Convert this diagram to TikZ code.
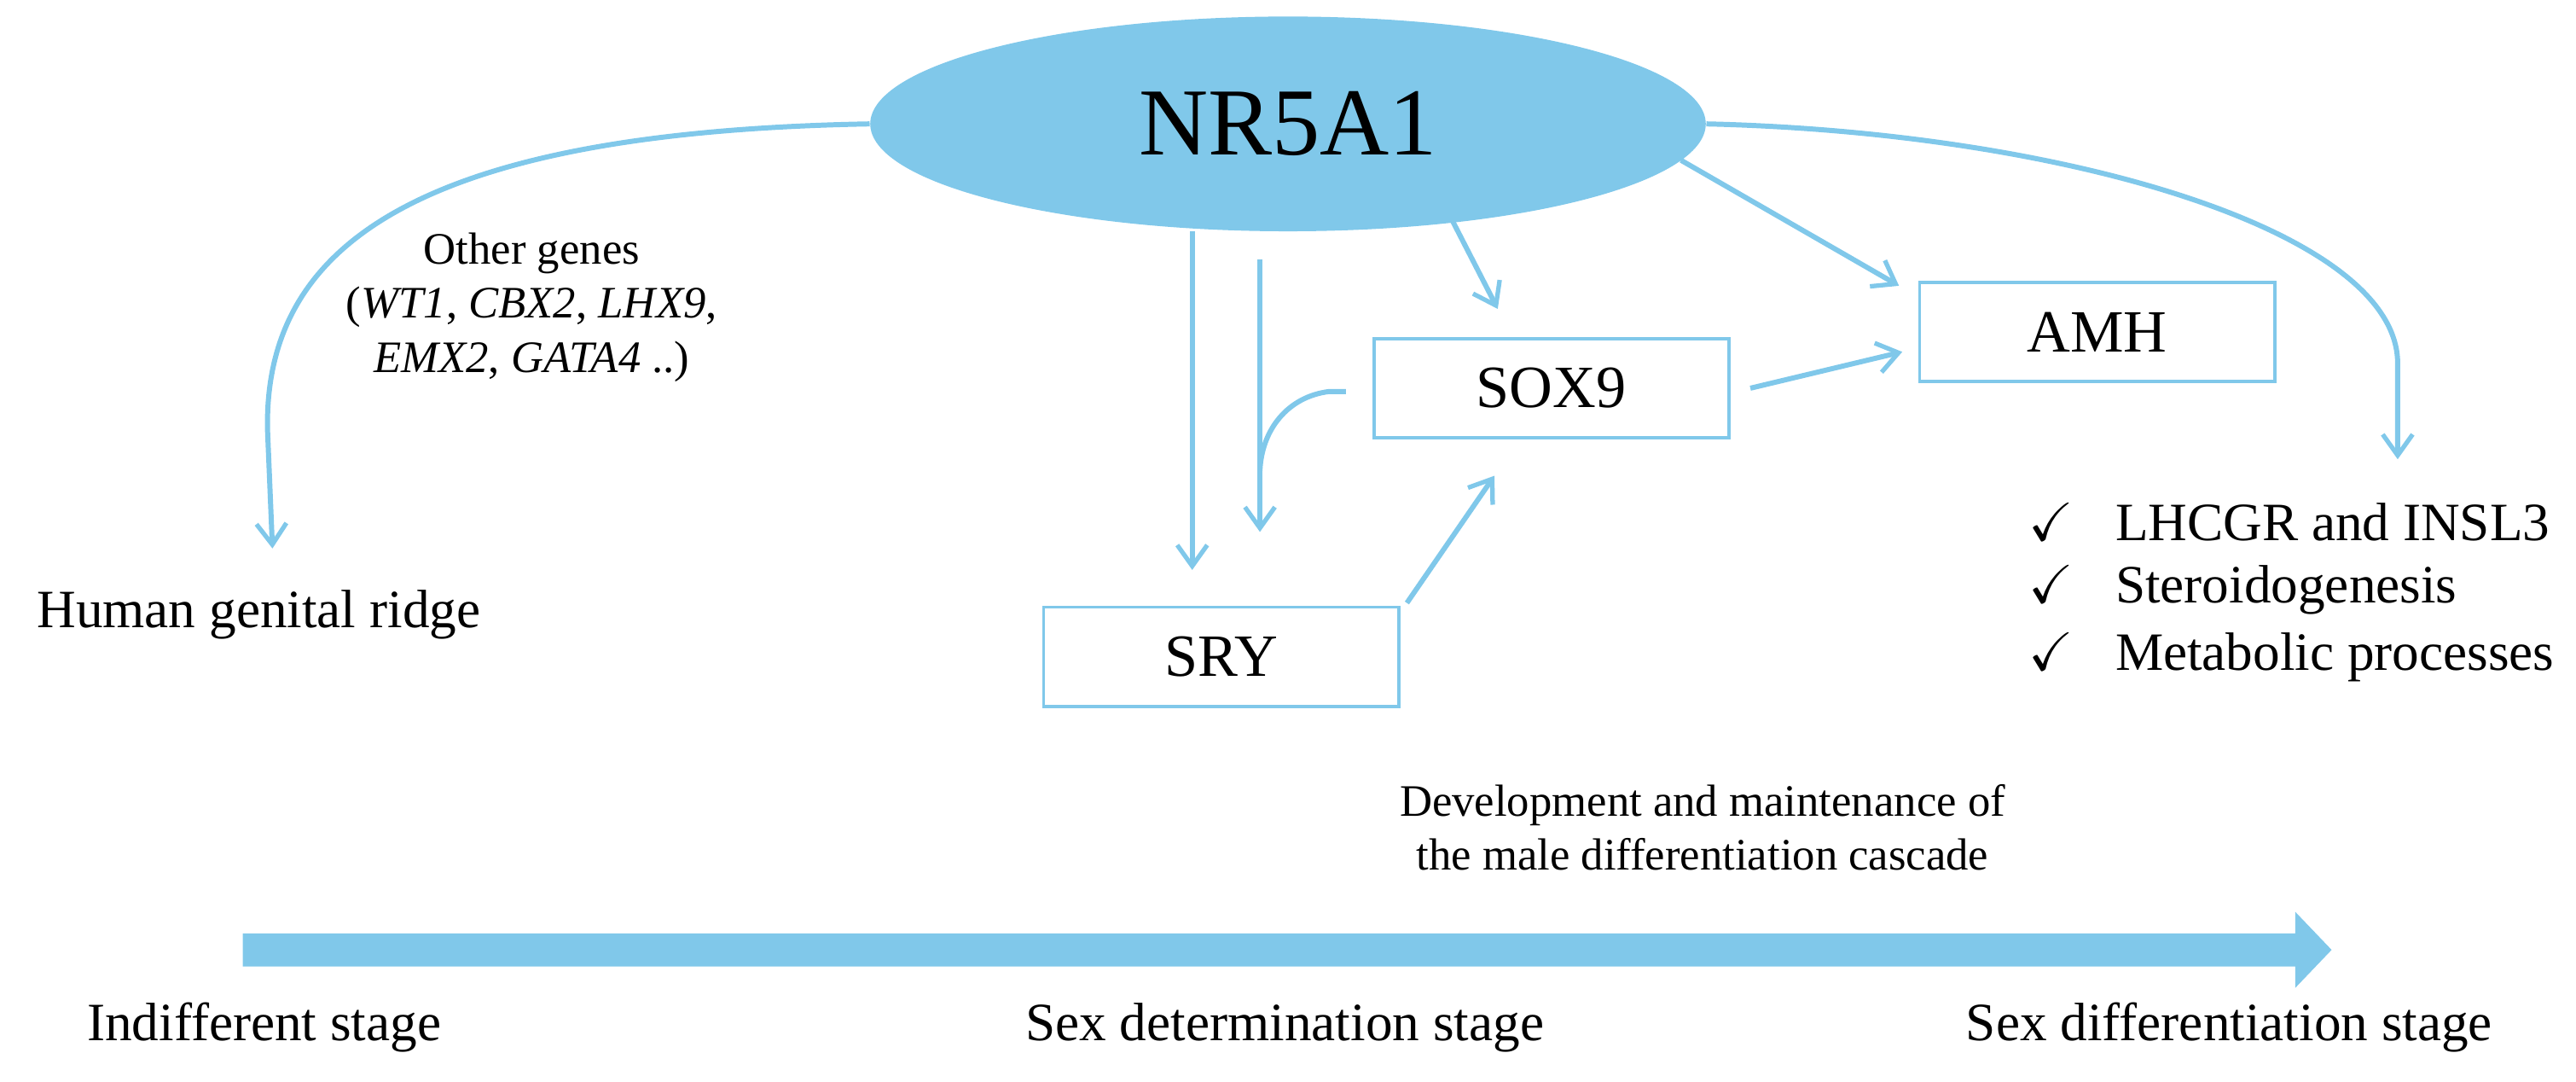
\documentclass[tikz,border=0pt]{standalone}
\usepackage{fontspec}
\setmainfont{Liberation Serif}
\usepackage{amssymb}
\usetikzlibrary{arrows.meta,shapes.geometric}
\definecolor{sky}{HTML}{80C8EA}
\tikzset{
  conn/.style={draw=sky,line width=1.7pt,-{Straight Barb[length=7pt,width=10pt,line width=1.5pt]}},
  gbox/.style={draw=sky,line width=1.1pt,minimum width=215*0.01936cm,minimum height=60*0.01936cm,font=\fontsize{20}{24}\selectfont},
  lab/.style={font=\fontsize{18}{22}\selectfont},
  small/.style={font=\fontsize{15}{18}\selectfont,align=center}
}
\begin{document}
\begin{tikzpicture}[x=0.01936cm,y=-0.01936cm]
\useasboundingbox (0,0) rectangle (1560,654.5);
\node[ellipse,fill=sky,minimum width=506*0.01936cm,minimum height=130*0.01936cm,inner sep=0pt,font=\fontsize{32}{36}\selectfont] (nr) at (780,75) {NR5A1};
\node[gbox] (sox) at (939.5,235) {SOX9};
\node[gbox] (amh) at (1270,201) {AMH};
\node[gbox] (sry) at (739.5,397.5) {SRY};
\coordinate (hgr) at (165,332);
\coordinate (rend) at (1452,278);
\node[lab,anchor=west] (hg) at (16,372) {Human genital ridge};
\node[small] (og) at (322,186) {Other genes\\(\textit{WT1}, \textit{CBX2}, \textit{LHX9},\\\textit{EMX2}, \textit{GATA4} ..)};
\draw[conn] (nr.west) .. controls (250,80) and (160,150) .. (162,260) -- (hgr);
\draw[conn] (nr.east) .. controls (1250,80) and (1452,140) .. (1452,220) -- (rend);
\coordinate (a1) at (722,140);
\coordinate (a2) at (722,345);
\draw[conn] (a1) -- (a2);
\coordinate (b1) at (763,157);
\coordinate (b2) at (763,322);
\draw[conn] (b1) -- (b2);
\draw[draw=sky,line width=1.7pt] (815,237) -- (805,237) .. controls (780,240) and (764,260) .. (763,285);
\coordinate (c1) at (870,115);
\coordinate (c2) at (907,187);
\draw[conn] (c1) -- (c2);
\draw[conn] (1018,97) -- (1150,173);
\draw[conn] (1060,235) -- (1152,213);
\draw[conn] (852,365) -- (905,288);
\node[lab,anchor=west] (c1t) at (1222,316) {\checkmark\hspace{14pt}LHCGR and INSL3};
\node[lab,anchor=west] (c2t) at (1222,357) {\checkmark\hspace{14pt}Steroidogenesis};
\node[lab,anchor=west] (c3t) at (1222,398) {\checkmark\hspace{14pt}Metabolic processes};
\node[small] (dev) at (1031,501) {Development and maintenance of\\the male differentiation cascade};
\fill[sky] (147,565) -- (1390,565) -- (1390,552) -- (1412,575) -- (1390,598) -- (1390,585) -- (147,585) -- cycle;
\node[lab] (s1) at (160,622) {Indifferent stage};
\node[lab] (s2) at (778,622) {Sex determination stage};
\node[lab] (s3) at (1350,622) {Sex differentiation stage};
\end{tikzpicture}
\end{document}
